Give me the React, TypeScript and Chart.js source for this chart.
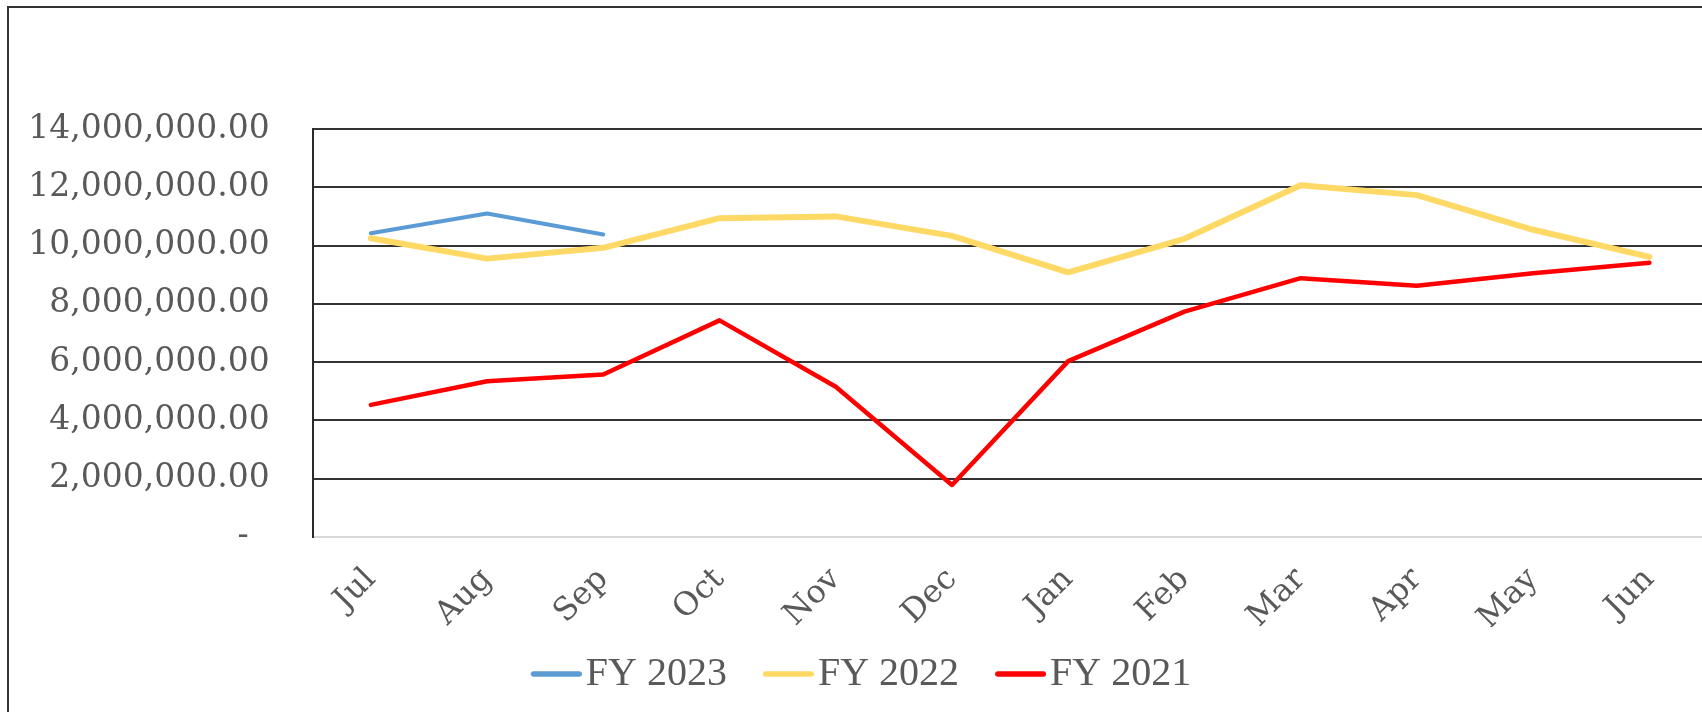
import React, { useEffect, useRef } from 'react';
import { Chart, registerables } from 'chart.js';

Chart.register(...registerables);

const months = ['Jul', 'Aug', 'Sep', 'Oct', 'Nov', 'Dec', 'Jan', 'Feb', 'Mar', 'Apr', 'May', 'Jun'];
const fy2023 = [10420000, 11100000, 10380000];
const fy2022 = [10250000, 9550000, 9920000, 10940000, 11000000, 10330000, 9080000, 10230000, 12070000, 11730000, 10540000, 9610000];
const fy2021 = [4530000, 5340000, 5570000, 7430000, 5150000, 1780000, 6030000, 7730000, 8880000, 8620000, 9050000, 9410000];
const seriesNames = ['FY 2023', 'FY 2022', 'FY 2021'];
const seriesColors = ['#5B9BD5', '#FFD966', '#FF0000'];
const seriesWidths = [4, 6, 4.5];
const yMin = 0;
const yMax = 14000000;
const yStep = 2000000;

const textColor = '#595959';

function legendLine(color: string, lw: number) {
  const c = document.createElement('canvas');
  c.width = 76;
  c.height = 10;
  const g = c.getContext('2d');
  if (g) {
    g.strokeStyle = color;
    g.lineWidth = lw;
    g.lineCap = 'round';
    g.beginPath();
    g.moveTo(25 + lw / 2, 5);
    g.lineTo(76 - lw / 2, 5);
    g.stroke();
  }
  return c;
}

export default function App() {
  const ref = useRef<HTMLCanvasElement>(null);

  useEffect(() => {
    const canvas = ref.current;
    if (!canvas) return;
    const values = [fy2023, fy2022, fy2021];
    const chart = new Chart(canvas, {
      type: 'line',
      data: {
        labels: months,
        datasets: values.map((v, i) => ({
          label: seriesNames[i],
          data: v,
          borderColor: seriesColors[i],
          backgroundColor: seriesColors[i],
          borderWidth: seriesWidths[i],
          borderCapStyle: 'round',
          borderJoinStyle: 'round',
          pointRadius: 0,
          pointHoverRadius: 0,
          tension: 0,
          fill: false,
          order: 2 - i,
        })),
      },
      options: {
        animation: false,
        responsive: false,
        maintainAspectRatio: false,
        layout: { padding: { top: 121, left: -3.5, right: 1.5, bottom: 0 } },
        plugins: {
          tooltip: { enabled: false },
          legend: {
            display: true,
            position: 'bottom',
            labels: {
              usePointStyle: true,
              pointStyleWidth: 44,
              boxWidth: 44,
              boxHeight: 36,
              padding: 27,
              color: textColor,
              font: { family: '"Liberation Serif", serif', size: 40 },
              generateLabels: (c: any) =>
                c.data.datasets.map((ds: any, i: number) => ({
                  text: ds.label,
                  fillStyle: ds.borderColor,
                  strokeStyle: ds.borderColor,
                  lineWidth: 0,
                  pointStyle: legendLine(ds.borderColor, 5.5),
                  fontColor: textColor,
                  hidden: false,
                  datasetIndex: i,
                })),
            },
          },
        },
        scales: {
          x: {
            offset: true,
            grid: { display: false, drawTicks: false },
            border: { display: true, color: '#D9D9D9', width: 2 },
            ticks: {
              autoSkip: false,
              minRotation: 45,
              maxRotation: 45,
              padding: 24,
              color: textColor,
              font: { family: '"DejaVu Serif", serif', size: 32 },
            },
            afterFit: (s: any) => {
              s.height = 90.2;
            },
          },
          y: {
            min: yMin,
            max: yMax,
            grid: {
              drawTicks: false,
              lineWidth: 2,
              color: (ctx: any) => (ctx.tick && ctx.tick.value === 0 ? '#D9D9D9' : '#333333'),
            },
            border: { display: true, color: '#2A2A2A', width: 2 },
            ticks: {
              stepSize: yStep,
              padding: 43,
              color: textColor,
              font: { family: '"DejaVu Serif", serif', size: 33 },
              callback: (v: any) =>
                Number(v) === 0
                  ? '-\u2007'
                  : Number(v).toLocaleString('en-US', { minimumFractionDigits: 2, maximumFractionDigits: 2 }),
            },
            afterFit: (s: any) => {
              s.width = 307.2;
            },
          },
        },
      },
    });
    return () => chart.destroy();
  }, []);

  return (
    <div
      style={{
        position: 'absolute',
        left: 7,
        top: 6,
        width: 1695,
        height: 706,
        boxSizing: 'border-box',
        borderLeft: '2px solid #333',
        borderTop: '2px solid #333',
        overflow: 'hidden',
        background: '#fff',
      }}
    >
      <canvas ref={ref} width={1700} height={696} style={{ display: 'block', width: 1700, height: 696 }} />
    </div>
  );
}
